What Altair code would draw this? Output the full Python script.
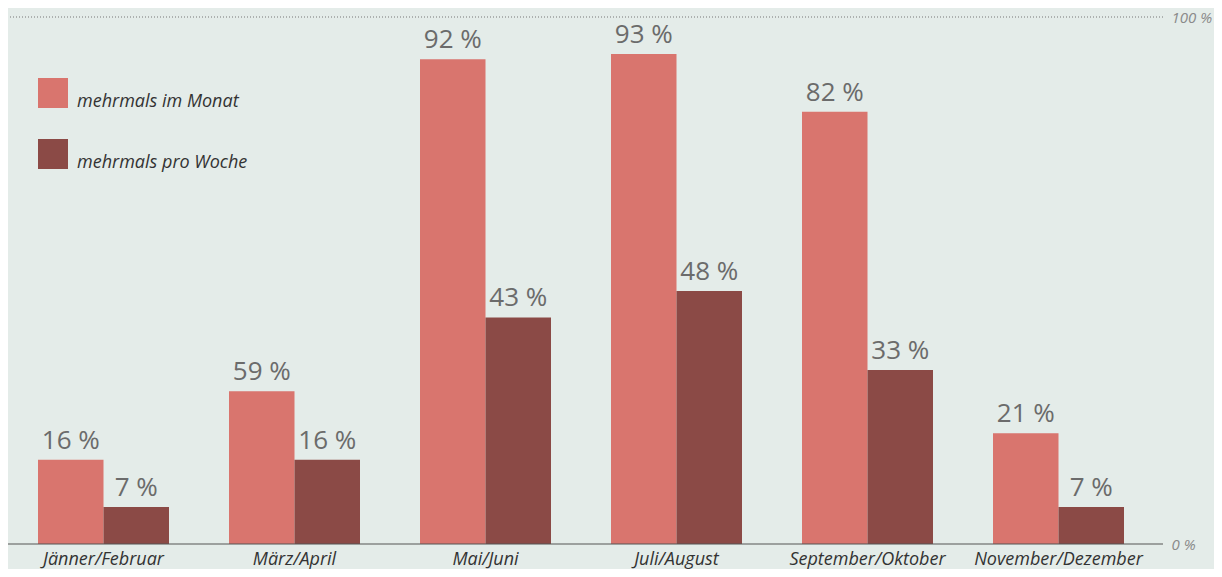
import altair as alt
import pandas as pd

periods = ["Jänner/Februar", "März/April", "Mai/Juni", "Juli/August", "September/Oktober", "November/Dezember"]
series = ["mehrmals im Monat", "mehrmals pro Woche"]
# bar heights as drawn in the picture
monat = [16, 29, 92, 93, 82, 21]
woche = [7, 16, 43, 48, 33, 7]
# value labels as printed in the picture
monat_labels = ["16 %", "59 %", "92 %", "93 %", "82 %", "21 %"]
woche_labels = ["7 %", "16 %", "43 %", "48 %", "33 %", "7 %"]
scale_ticks = [0, 100]

rows = []
for p, m, w, ml, wl in zip(periods, monat, woche, monat_labels, woche_labels):
    rows.append({"period": p, "series": series[0], "value": m, "label": ml})
    rows.append({"period": p, "series": series[1], "value": w, "label": wl})
df = pd.DataFrame(rows)

ref = pd.DataFrame({"v": scale_ticks})

W, H = 1146, 527
ytop = alt.Scale(domain=[0, 100], nice=False, zero=True)
xscale = alt.Scale(paddingInner=60 / 191, paddingOuter=30 / 191)
colors = alt.Scale(domain=series, range=["#d9756e", "#8b4a46"])

base = alt.Chart(df)

x_enc = alt.X("period:N", sort=periods, scale=xscale,
              axis=alt.Axis(title=None, labelAngle=0, domain=False, ticks=False,
                            labelPadding=6, labelBaseline="top", labelFont="Open Sans",
                            labelFontStyle="italic", labelFontSize=18, labelColor="#333333",
                            labelLimit=0))

bars = base.mark_bar(size=65.5).encode(
    x=x_enc,
    xOffset=alt.XOffset("series:N", sort=series, scale=alt.Scale(paddingInner=0, paddingOuter=0)),
    y=alt.Y("value:Q", scale=ytop,
            axis=alt.Axis(title=None, orient="right", values=scale_ticks, domain=False,
                          ticks=False, grid=False, labelPadding=17,
                          labelExpr="datum.value + ' %'", labelFont="Open Sans",
                          labelFontStyle="italic", labelFontSize=15, labelColor="#8a8a8a")),
    color=alt.Color("series:N", scale=colors, sort=series,
                    legend=alt.Legend(title=None, orient="none", legendX=30, legendY=61,
                                      symbolType="square", symbolSize=900, symbolStrokeWidth=0,
                                      symbolOpacity=1, rowPadding=28, labelOffset=9,
                                      labelLimit=0, labelBaseline="top", labelFont="Open Sans",
                                      labelFontStyle="italic", labelFontSize=18,
                                      labelColor="#333333")),
)

texts = base.mark_text(baseline="alphabetic", dy=-11, font="Open Sans", fontSize=26,
                       color="#6b6b6b").encode(
    x=alt.X("period:N", sort=periods, scale=xscale),
    xOffset=alt.XOffset("series:N", sort=series),
    y=alt.Y("value:Q", scale=ytop),
    text="label:N",
)

zero_line = alt.Chart(ref).transform_filter("datum.v == 0").mark_rule(
    color="#555555", strokeWidth=1.2).encode(
    y=alt.Y("v:Q", scale=ytop), x=alt.value(-8), x2=alt.value(1155))

top_line = alt.Chart(ref).transform_filter("datum.v == 100").mark_rule(
    color="#777777", strokeWidth=1, strokeDash=[1, 2]).encode(
    y=alt.Y("v:Q", scale=ytop), x=alt.value(-1), x2=alt.value(1155))

chart = alt.layer(top_line, bars, zero_line, texts).properties(
    width=W, height=H,
    autosize=alt.AutoSizeParams(type="none"),
    padding={"left": 0, "top": 9, "right": 60, "bottom": 25},
    background="#e4ece9",
).configure_view(stroke=None)

chart.save("out.html", embed_options={"renderer": "svg", "actions": False})
